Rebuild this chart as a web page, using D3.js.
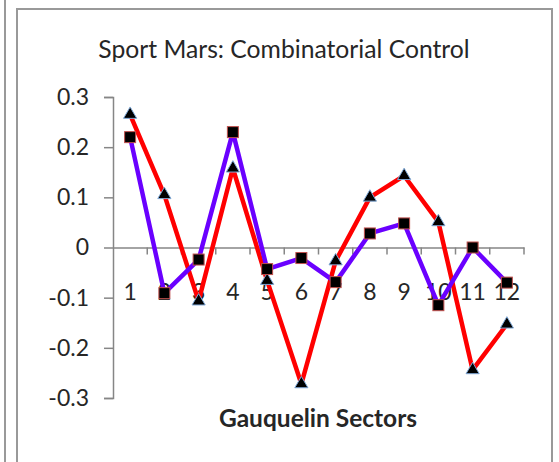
<!DOCTYPE html>
<html>
<head>
<meta charset="utf-8">
<script src="https://cdn.jsdelivr.net/npm/d3@7"></script>
<style>
  body { margin: 0; background: #fff; }
  svg { display: block; font-family: Lato, "Open Sans", sans-serif; }
</style>
</head>
<body>
<svg id="chart" width="559" height="462"></svg>
<script>
const sectors = ['1', '2', '3', '4', '5', '6', '7', '8', '9', '10', '11', '12'];
const redValues = [0.265, 0.105, -0.107, 0.158, -0.066, -0.272, -0.027, 0.1, 0.143, 0.051, -0.244, -0.153];
const purpleValues = [0.22, -0.091, -0.024, 0.23, -0.043, -0.021, -0.069, 0.028, 0.048, -0.115, 0, -0.07];
const yTicks = [0.3, 0.2, 0.1, 0, -0.1, -0.2, -0.3];

const svg = d3.select('#chart');

// frames (neighbouring chart edge + this chart's border)
svg.append('line').attr('x1', 5).attr('x2', 5).attr('y1', 0).attr('y2', 462)
  .attr('stroke', '#999').attr('stroke-width', 2);
svg.append('path').attr('d', 'M17,462 V9 H552 V462')
  .attr('fill', 'none').attr('stroke', '#999').attr('stroke-width', 2);

const x = d3.scaleBand().domain(sectors).range([113, 524]);
const y = d3.scaleLinear().domain([-0.3, 0.3]).range([398, 97]);

// shrink/grow a text so it spans about the width seen in the picture
function fitText(sel, width) {
  const w = sel.node().getComputedTextLength();
  const fs = parseFloat(sel.attr('font-size'));
  sel.attr('font-size', (fs * width / w).toFixed(1));
}

const title = svg.append('text')
  .attr('x', 284).attr('y', 58)
  .attr('text-anchor', 'middle')
  .attr('font-size', 20)
  .attr('fill', '#262626')
  .text('Sport Mars: Combinatorial Control');
fitText(title, 372);

// y axis
const yAxis = svg.append('g').attr('transform', 'translate(113,0)')
  .call(d3.axisLeft(y).tickValues(yTicks).tickSize(9).tickPadding(15)
    .tickFormat(d => d === 0 ? '0' : d3.format('.1f')(d).replace('−', '-')));
yAxis.select('.domain').attr('stroke', '#868686').attr('stroke-width', 1.5);
yAxis.selectAll('.tick line').attr('stroke', '#868686').attr('stroke-width', 1.5);
yAxis.selectAll('.tick text').attr('font-size', 23).attr('fill', '#262626')
  .attr('font-family', 'Lato, sans-serif');

// x axis at zero
const xAxis = svg.append('g').attr('transform', `translate(0,${y(0)})`)
  .call(d3.axisBottom(x).tickSize(0).tickPadding(0).tickFormat(''));
xAxis.select('.domain').attr('stroke', '#868686').attr('stroke-width', 1.5);
xAxis.selectAll('.tick').remove();
const bounds = d3.range(sectors.length + 1).map(i => 113 + i * x.step());
svg.append('g').selectAll('line').data(bounds.slice(1)).join('line')
  .attr('x1', d => d).attr('x2', d => d)
  .attr('y1', y(0)).attr('y2', y(0) + 7)
  .attr('stroke', '#868686').attr('stroke-width', 1.5);

svg.append('g').selectAll('text').data(sectors).join('text')
  .attr('x', d => x(d) + x.bandwidth() / 2)
  .attr('y', 300)
  .attr('text-anchor', 'middle')
  .attr('font-size', 23)
  .attr('fill', '#262626')
  .text(d => d);

const axisTitle = svg.append('text')
  .attr('x', 318).attr('y', 427)
  .attr('text-anchor', 'middle')
  .attr('font-size', 20)
  .attr('font-weight', 'bold')
  .attr('fill', '#262626')
  .text('Gauquelin Sectors');
fitText(axisTitle, 198);

const cx = (d, i) => x(sectors[i]) + x.bandwidth() / 2;
const line = d3.line().x(cx).y(d => y(d));

// red series with triangles
svg.append('path').datum(redValues)
  .attr('d', line).attr('fill', 'none')
  .attr('stroke', '#ff0000').attr('stroke-width', 4.5).attr('stroke-linejoin', 'round');
svg.append('g').selectAll('path').data(redValues).join('path')
  .attr('transform', (d, i) => `translate(${cx(d, i)},${y(d)})`)
  .attr('d', d3.symbol(d3.symbolTriangle, 75))
  .attr('fill', '#000').attr('stroke', '#7fa9d8').attr('stroke-width', 1);

// purple series with squares
svg.append('path').datum(purpleValues)
  .attr('d', line).attr('fill', 'none')
  .attr('stroke', '#6a00ff').attr('stroke-width', 4.5).attr('stroke-linejoin', 'round');
svg.append('g').selectAll('rect').data(purpleValues).join('rect')
  .attr('x', (d, i) => cx(d, i) - 5.5).attr('y', d => y(d) - 5.5)
  .attr('width', 11).attr('height', 11)
  .attr('fill', '#000').attr('stroke', '#c0504d').attr('stroke-width', 1);
</script>
</body>
</html>
